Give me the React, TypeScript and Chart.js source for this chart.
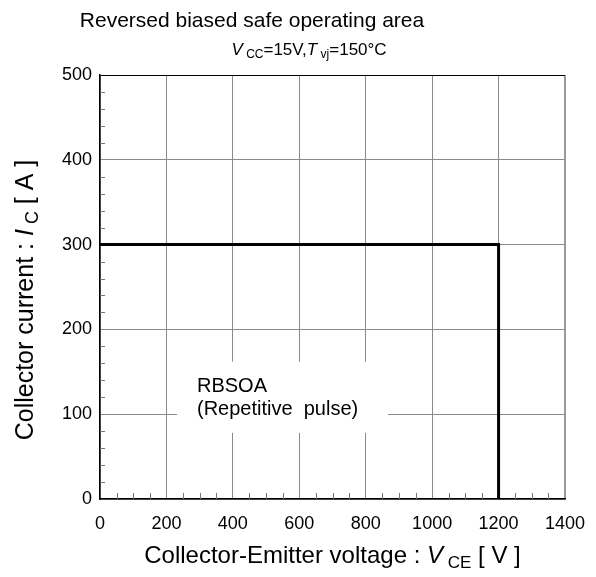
import React, { useEffect, useRef } from "react";
import { Chart, registerables } from "chart.js";
Chart.register(...registerables);

// ---- data ----
const voltage = [0, 1200, 1200];
const current = [300, 300, 0];
const xTickValues = [0, 200, 400, 600, 800, 1000, 1200, 1400];
const yTickValues = [0, 100, 200, 300, 400, 500];
const xMinorStep = 50;
const yMinorStep = 20;

type Part = { t: string; it?: boolean; sub?: boolean };
const titleParts: Part[] = [{ t: "Reversed biased safe operating area" }];
const subtitleParts: Part[] = [
  { t: "V", it: true }, { t: "CC", sub: true }, { t: "=15V," },
  { t: "T", it: true }, { t: "vj", sub: true }, { t: "=150°C" },
];
const xTitleParts: Part[] = [
  { t: "Collector-Emitter voltage : " }, { t: "V", it: true }, { t: "CE", sub: true }, { t: " [ V ]" },
];
const yTitleParts: Part[] = [
  { t: "Collector current : " }, { t: "I", it: true }, { t: "C", sub: true }, { t: " [ A ]" },
];
const noteLines = ["RBSOA", "(Repetitive  pulse)"];
const noteBoxX = [232, 867];
const noteBoxY = [78, 162];
const noteTextX = 292;
const noteTextY = [133, 105];

const FAMILY = '"Liberation Sans", Arial, sans-serif';

function drawRich(
  ctx: CanvasRenderingContext2D,
  parts: Part[],
  x: number,
  y: number,
  align: "left" | "center",
  size: number
) {
  const subSize = Math.round(size * 0.72);
  const fontFor = (p: Part) => `${p.it ? "italic " : ""}${p.sub ? subSize : size}px ${FAMILY}`;
  ctx.save();
  ctx.textBaseline = "alphabetic";
  ctx.textAlign = "left";
  const gap = size * 0.2;
  const widths = parts.map((p) => {
    ctx.font = fontFor(p);
    return ctx.measureText(p.t).width + (p.sub ? gap : 0);
  });
  const total = widths.reduce((a, b) => a + b, 0);
  let cx = align === "center" ? x - total / 2 : x;
  parts.forEach((p, i) => {
    ctx.font = fontFor(p);
    ctx.fillStyle = "#000";
    if (p.sub) ctx.fillText(p.t, cx + gap, y + size * 0.2);
    else ctx.fillText(p.t, cx, y);
    cx += widths[i];
  });
  ctx.restore();
}

const decorPlugin = {
  id: "decor",
  beforeDatasetsDraw(chart: any) {
    const { ctx, chartArea, scales } = chart;
    const xs = scales.x, ys = scales.y;
    ctx.save();
    // minor ticks
    ctx.strokeStyle = "#777";
    ctx.lineWidth = 1;
    ctx.beginPath();
    for (let v = xMinorStep; v < 1400; v += xMinorStep) {
      if (v % 200 === 0) continue;
      const px = Math.round(xs.getPixelForValue(v)) + 0.5;
      ctx.moveTo(px, chartArea.bottom);
      ctx.lineTo(px, chartArea.bottom - 6);
    }
    for (let v = yMinorStep; v < 500; v += yMinorStep) {
      if (v % 100 === 0) continue;
      const py = Math.round(ys.getPixelForValue(v)) + 0.5;
      ctx.moveTo(chartArea.left, py);
      ctx.lineTo(chartArea.left + 5, py);
    }
    ctx.stroke();
    // note box
    const bx0 = xs.getPixelForValue(noteBoxX[0]);
    const bx1 = xs.getPixelForValue(noteBoxX[1]);
    const by0 = ys.getPixelForValue(noteBoxY[1]);
    const by1 = ys.getPixelForValue(noteBoxY[0]);
    ctx.fillStyle = "#fff";
    ctx.fillRect(bx0, by0, bx1 - bx0, by1 - by0);
    ctx.fillStyle = "#000";
    ctx.font = `20px ${FAMILY}`;
    ctx.textAlign = "left";
    ctx.textBaseline = "middle";
    noteLines.forEach((line, i) => {
      ctx.fillText(line, xs.getPixelForValue(noteTextX), ys.getPixelForValue(noteTextY[i]));
    });
    ctx.restore();
  },
  afterDraw(chart: any) {
    const { ctx, chartArea } = chart;
    const cxPlot = (chartArea.left + chartArea.right) / 2;
    drawRich(ctx, titleParts, 252, 27, "center", 21);
    drawRich(ctx, subtitleParts, 309, 55, "center", 17);
    drawRich(ctx, xTitleParts, cxPlot, 563, "center", 24);
    ctx.save();
    ctx.translate(33, 300);
    ctx.rotate(-Math.PI / 2);
    drawRich(ctx, yTitleParts, 0, 0, "center", 25);
    ctx.restore();
  },
};

export default function App() {
  const ref = useRef<HTMLCanvasElement | null>(null);
  useEffect(() => {
    if (!ref.current) return;
    const chart = new Chart(ref.current, {
      type: "line",
      data: {
        datasets: [
          {
            label: "RBSOA",
            data: voltage.map((v, i) => ({ x: v, y: current[i] })),
            borderColor: "#000",
            borderWidth: 3,
            pointRadius: 0,
            fill: false,
            tension: 0,
          },
        ],
      },
      options: {
        animation: false,
        responsive: false,
        devicePixelRatio: 1,
        layout: { padding: { left: 0, top: 75, right: 31, bottom: 0 } },
        plugins: { legend: { display: false }, tooltip: { enabled: false }, title: { display: false } },
        scales: {
          x: {
            type: "linear",
            min: 0,
            max: 1400,
            afterFit: (s: any) => {
              s.height = 78;
              s.paddingLeft = 0;
              s.paddingRight = 0;
            },
            afterBuildTicks: (s: any) => { s.ticks = xTickValues.map((v) => ({ value: v })); },
            ticks: {
              color: "#000",
              font: { family: FAMILY, size: 18 },
              padding: 14,
              maxRotation: 0,
              callback: (v: any) => String(v),
            },
            grid: {
              drawTicks: false,
              color: (c: any) => (c.tick && c.tick.value === 1400 ? "#999" : "#8a8a8a"),
              lineWidth: (c: any) => (c.tick && c.tick.value === 1400 ? 2 : 1),
            },
            border: { color: "#000", width: 1.5 },
          },
          y: {
            type: "linear",
            min: 0,
            max: 500,
            afterFit: (s: any) => {
              s.width = 100;
              s.paddingTop = 0;
              s.paddingBottom = 0;
            },
            afterBuildTicks: (s: any) => { s.ticks = yTickValues.map((v) => ({ value: v })); },
            ticks: {
              color: "#000",
              font: { family: FAMILY, size: 18 },
              padding: 8,
              callback: (v: any) => String(v),
            },
            grid: {
              drawTicks: false,
              color: (c: any) => (c.tick && c.tick.value === 500 ? "#000" : "#8a8a8a"),
              lineWidth: 1,
            },
            border: { color: "#000", width: 1.5 },
          },
        },
      },
      plugins: [decorPlugin],
    } as any);
    return () => chart.destroy();
  }, []);
  return (
    <div style={{ position: "absolute", left: 0, top: 0, width: 596, height: 577, background: "#fff" }}>
      <canvas ref={ref} width={596} height={577} />
    </div>
  );
}
